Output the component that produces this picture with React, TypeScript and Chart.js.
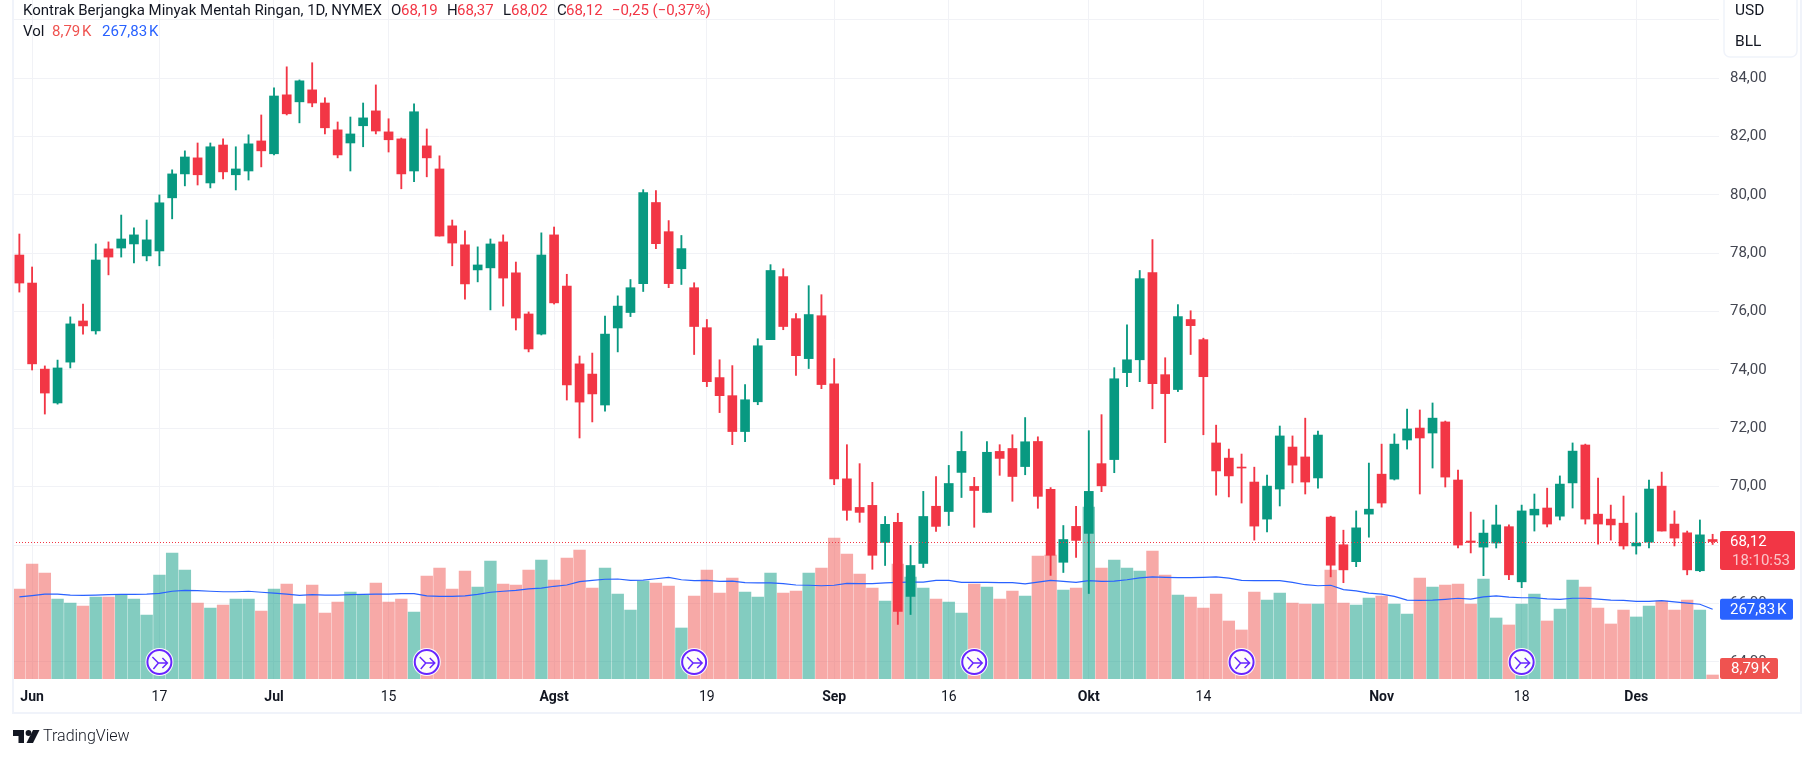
import React, { useEffect, useRef } from "react";
import { Chart, registerables } from "chart.js";

Chart.register(...registerables);

const dates = [
  "05-31","06-03","06-04","06-05","06-06","06-07","06-10","06-11","06-12","06-13","06-14","06-17","06-18","06-20","06-21",
  "06-24","06-25","06-26","06-27","06-28","07-01","07-02","07-03","07-05","07-08","07-09","07-10","07-11","07-12","07-15",
  "07-16","07-17","07-18","07-19","07-22","07-23","07-24","07-25","07-26","07-29","07-30","07-31","08-01","08-02","08-05",
  "08-06","08-07","08-08","08-09","08-12","08-13","08-14","08-15","08-16","08-19","08-20","08-21","08-22","08-23","08-26",
  "08-27","08-28","08-29","08-30","09-03","09-04","09-05","09-06","09-09","09-10","09-11","09-12","09-13","09-16","09-17",
  "09-18","09-19","09-20","09-23","09-24","09-25","09-26","09-27","09-30","10-01","10-02","10-03","10-04","10-07","10-08",
  "10-09","10-10","10-11","10-14","10-15","10-16","10-17","10-18","10-21","10-22","10-23","10-24","10-25","10-28","10-29",
  "10-30","10-31","11-01","11-04","11-05","11-06","11-07","11-08","11-11","11-12","11-13","11-14","11-15","11-18","11-19",
  "11-20","11-21","11-22","11-25","11-26","11-27","11-29","12-02","12-03","12-04","12-05","12-06","12-09","12-10",
];

const opens = [
  77.94,76.98,74.03,72.87,74.27,75.68,75.34,78.15,78.18,78.32,
  77.91,78.08,79.9,80.72,81.27,80.41,81.71,80.69,80.82,81.85,
  81.41,83.43,83.19,83.6,83.15,82.23,81.78,82.37,82.88,82.16,
  81.92,80.82,81.68,80.89,78.94,78.29,77.43,77.5,78.39,77.33,
  75.92,75.23,78.63,76.88,74.21,73.86,72.8,75.44,75.97,76.96,
  79.74,78.74,77.47,76.82,75.45,73.74,73.12,71.89,72.91,75.04,
  77.2,75.76,74.39,75.86,73.53,70.27,69.29,69.36,68.09,68.78,
  66.24,67.37,69.33,69.15,70.49,70.01,69.12,71.21,71.31,70.69,
  71.55,69.91,67.41,68.64,68.4,70.79,70.93,73.91,74.35,77.34,
  73.84,73.33,75.73,75.04,71.5,70.98,70.67,70.16,68.89,69.92,
  71.36,71.02,70.3,68.96,68.01,67.43,69.06,70.43,70.26,71.6,
  72.01,71.84,72.22,70.23,68.14,67.93,68.07,68.63,66.74,69.03,
  69.27,68.99,70.13,71.43,69.06,68.89,68.75,67.97,68.1,70.02,
  68.72,68.42,67.12,68.19,
];
const highs = [
  78.66,77.53,74.14,74.34,75.82,76.26,78.32,78.39,79.31,78.87,
  79.14,80.0,80.86,81.51,81.78,81.78,81.92,81.65,82.06,82.74,
  83.67,84.39,83.94,84.53,83.33,82.5,82.67,83.15,83.77,82.61,
  81.95,83.12,82.26,81.34,79.14,78.77,78.22,78.49,78.63,77.7,
  75.99,78.7,78.9,77.28,74.48,74.58,75.85,76.54,77.1,80.18,
  80.15,79.12,78.61,76.99,75.73,74.35,74.15,73.5,75.07,77.61,
  77.47,75.93,76.89,76.58,74.39,71.44,70.79,70.15,68.98,69.09,
  67.99,69.84,70.35,70.73,71.89,70.32,71.55,71.44,71.78,72.37,
  71.71,69.97,68.67,69.33,71.92,72.47,74.08,75.55,77.41,78.47,
  74.42,76.24,76.03,75.09,72.11,71.29,71.12,70.67,70.4,72.08,
  71.74,72.35,71.91,68.99,68.51,69.17,70.81,71.46,71.81,72.66,
  72.63,72.87,72.25,70.57,69.13,68.86,69.37,68.69,69.37,69.75,
  69.95,70.37,71.5,71.46,70.3,69.37,69.68,69.1,70.23,70.5,
  69.17,68.48,68.86,68.37,
];
const lows = [
  76.67,74.0,72.49,72.83,74.07,75.23,75.23,77.26,77.87,77.67,
  77.74,77.57,79.18,80.31,80.34,80.24,80.55,80.17,80.51,80.96,
  81.37,82.74,82.47,83.02,82.09,81.27,80.82,81.65,82.09,81.47,
  80.21,80.45,80.62,78.59,77.57,76.43,77.02,76.06,76.19,75.37,
  74.62,75.2,76.26,72.97,71.67,72.22,72.59,74.62,75.83,76.69,
  78.16,76.82,76.93,74.53,73.43,72.54,71.44,71.54,72.81,75.04,
  75.38,73.81,74.05,73.36,70.07,68.85,68.78,67.17,67.3,65.28,
  65.62,67.23,68.47,68.67,69.63,68.61,69.12,70.39,69.5,70.41,
  69.26,66.96,67.06,67.58,66.34,69.83,70.48,73.43,73.6,72.67,
  71.51,73.26,74.53,71.78,69.71,69.65,69.44,68.17,68.45,69.34,
  70.13,69.75,69.95,66.91,66.71,67.26,68.27,69.3,70.23,71.29,
  69.75,70.64,69.99,67.9,67.73,66.95,67.9,66.81,66.54,68.48,
  68.62,68.86,69.27,68.72,68.03,68.17,67.86,67.69,67.9,68.48,
  67.97,66.98,67.09,68.02,
];
const closes = [
  76.98,74.21,73.21,74.07,75.58,75.51,77.77,77.87,78.49,78.63,
  78.46,79.73,80.72,81.3,80.69,81.65,80.79,80.89,81.75,81.51,
  83.39,82.78,83.91,83.15,82.3,81.37,82.09,82.64,82.19,81.89,
  80.72,82.85,81.27,78.59,78.35,76.95,77.6,78.32,77.15,75.78,
  74.72,77.94,76.3,73.49,72.9,73.18,75.23,76.19,76.82,80.08,
  78.33,76.96,78.16,75.49,73.6,73.12,71.89,72.98,74.83,77.41,
  75.49,74.49,75.9,73.5,70.27,69.19,69.12,67.65,68.71,65.73,
  67.3,68.98,68.64,70.11,71.21,69.87,71.18,70.97,70.35,71.54,
  69.67,67.65,68.19,68.16,69.84,70.03,73.7,74.35,77.13,73.53,
  73.19,75.83,75.52,73.77,70.54,70.37,70.64,68.65,70.02,71.74,
  70.74,70.16,71.77,67.31,67.15,68.59,69.23,69.44,71.46,71.98,
  71.67,72.35,70.33,68.0,68.09,68.41,68.69,66.98,69.17,69.23,
  68.72,70.09,71.22,68.89,68.72,68.69,67.97,68.07,69.92,68.48,
  68.24,67.15,68.35,68.12,
];
const volumesK = [
  345.6,441.6,407,307.2,291.8,280.3,314.9,314.9,323.8,307.2,
  245.8,399.4,483.8,418.6,291.8,272.6,284.2,307.2,307.2,261.1,
  345.6,364.8,288,361,253.4,295.7,334.1,322.6,368.6,295.7,
  307.2,257.3,395.5,426.2,345.6,414.7,353.3,453.1,364.8,361,
  418.6,457,380.2,464.6,495.4,349.4,426.2,326.4,265,376.3,
  368.6,357.1,195.8,318.7,418.6,330.2,387.8,334.1,314.9,407,
  330.2,337.9,407,426.2,541.4,480,403.2,349.4,299.5,441.6,
  391.7,349.4,307.2,295.7,253.4,364.8,353.3,307.2,337.9,318.7,
  472.3,476.2,341.8,349.4,660.5,426.2,457,426.2,414.7,491.5,
  399.4,322.6,314.9,272.6,326.4,222.7,188.2,334.1,303.4,330.2,
  291.8,288,288,418.6,291.8,284.2,311,318.7,288,249.6,
  387.8,353.3,361,364.8,288,384,234.2,207.4,288,326.4,
  222.7,268.8,380.2,353.3,272.6,211.2,265,238.1,280.3,299.5,
  265,303.4,265,8.79,
];
const volumeAverageK = [
  315,320,326,326,322,321,322,324,325,325,
  326,329,337,340,339,337,335,335,337,333,
  330,326,321,324,322,322,324,325,326,326,
  328,328,319,317,317,319,325,333,337,340,
  346,349,356,361,374,379,383,384,379,380,
  385,390,381,378,379,375,376,370,369,369,
  366,361,360,358,360,367,366,366,369,371,
  372,372,379,379,371,371,371,370,370,365,
  372,379,375,371,378,375,376,381,388,392,
  390,389,389,390,392,387,379,378,378,378,
  371,362,358,360,343,338,330,326,317,303,
  302,303,306,310,307,315,319,314,312,312,
  308,306,310,310,307,303,302,298,298,301,
  296,291,287,267.83,
];

const tickDates = ["06-03","06-17","07-01","07-15","08-01","08-19","09-03","09-16","10-01","10-14","11-01","11-18","12-02"];
const tickTexts = ["Jun","17","Jul","15","Agst","19","Sep","16","Okt","14","Nov","18","Des"];
const monthTicks = ["Jun","Jul","Agst","Sep","Okt","Nov","Des"];
const badgeDates = ["06-17","07-18","08-16","09-18","10-17","11-18"];

const RED = "#F23645";
const GREEN = "#089981";
const FONT = "Roboto, sans-serif";
const TEXT = "#131722";
const GRID = "#F1F2F6";
const KILO = "\u202fK";

const fmt = (v: number) => v.toFixed(2).replace(".", ",");

function overlayPlugin() {
  return {
    id: "overlay",
    beforeDraw(chart: any) {
      const { ctx } = chart;
      ctx.save();
      ctx.fillStyle = "#fff";
      ctx.fillRect(0, 0, chart.width, chart.height);
      ctx.restore();
    },
    afterDatasetsDraw(chart: any) {
      const { ctx, chartArea, scales } = chart;
      const last = closes.length - 1;
      // last price line
      const py = Math.round(scales.y.getPixelForValue(closes[last])) + 0.5;
      ctx.save();
      ctx.strokeStyle = RED;
      ctx.lineWidth = 1;
      ctx.setLineDash([1, 2]);
      ctx.beginPath();
      ctx.moveTo(chartArea.left, py);
      ctx.lineTo(chartArea.right, py);
      ctx.stroke();
      ctx.restore();

      // event badges
      badgeDates.forEach((d) => {
        const x = scales.x.getPixelForValue(dates.indexOf(d));
        const y = 662;
        ctx.save();
        ctx.translate(x, y);
        ctx.beginPath();
        ctx.arc(0, 0, 14, 0, Math.PI * 2);
        ctx.fillStyle = "rgba(255,255,255,0.95)";
        ctx.fill();
        ctx.beginPath();
        ctx.arc(0, 0, 12, 0, Math.PI * 2);
        ctx.strokeStyle = "#6725FF";
        ctx.lineWidth = 2;
        ctx.stroke();
        ctx.lineWidth = 1.5;
        ctx.beginPath();
        ctx.moveTo(-7, -5);
        ctx.lineTo(-1, 1);
        ctx.lineTo(8, 1);
        ctx.moveTo(-1, 1);
        ctx.lineTo(-6, 7);
        ctx.moveTo(3, -4);
        ctx.lineTo(8, 1);
        ctx.lineTo(3, 6);
        ctx.stroke();
        ctx.restore();
      });
    },
    afterDraw(chart: any) {
      const { ctx, scales } = chart;
      const last = closes.length - 1;
      ctx.save();
      // frame
      ctx.fillStyle = "#F0F3FA";
      ctx.fillRect(12, 0, 2, 714);
      ctx.fillRect(1800, 0, 2, 714);
      ctx.fillRect(12, 712, 1790, 2);

      const tag = (x: number, y: number, w: number, h: number, c: string) => {
        ctx.fillStyle = c;
        ctx.beginPath();
        ctx.roundRect(x, y, w, h, 2);
        ctx.fill();
      };
      const txt = (s: string, x: number, y: number, c: string, size = 15, w = "400") => {
        ctx.font = `${w} ${size}px ${FONT}`;
        ctx.fillStyle = c;
        ctx.textAlign = "left";
        ctx.textBaseline = "middle";
        ctx.fillText(s, x, y);
      };

      // currency box
      ctx.fillStyle = "#fff";
      ctx.strokeStyle = "#F0F3FA";
      ctx.lineWidth = 1.5;
      ctx.beginPath();
      ctx.roundRect(1724, -8, 73, 65, 6);
      ctx.fill();
      ctx.stroke();
      txt("USD", 1735, 11, TEXT, 15.5);
      txt("BLL", 1735, 42, TEXT, 15.5);

      // price tags
      const py = scales.y.getPixelForValue(closes[last]);
      tag(1720, py - 10.5, 75, 39, RED);
      txt(fmt(closes[last]), 1730, py + 1, "#fff");
      txt("18:10:53", 1732, py + 19.5, "rgba(255,255,255,0.7)", 15);
      const ay = scales.y1.getPixelForValue(volumeAverageK[last]);
      tag(1720, ay - 10.5, 73, 21, "#2962FF");
      txt(fmt(volumeAverageK[last]) + KILO, 1730, ay + 1, "#fff");
      tag(1720, 658, 58, 21, "#EF5350");
      txt(fmt(volumesK[last]) + KILO, 1731, 669.5, "#fff");

      // legend
      txt("Kontrak Berjangka Minyak Mentah Ringan, 1D, NYMEX", 23, 11, TEXT);
      const down = RED;
      txt("O", 391, 11, TEXT);
      txt(fmt(opens[last]), 401, 11, down);
      txt("H", 447, 11, TEXT);
      txt(fmt(highs[last]), 457, 11, down);
      txt("L", 503, 11, TEXT);
      txt(fmt(lows[last]), 511, 11, down);
      txt("C", 557, 11, TEXT);
      txt(fmt(closes[last]), 566, 11, down);
      txt("\u22120,25 (\u22120,37%)", 612, 11, down);
      txt("Vol", 23, 32, TEXT);
      txt(fmt(volumesK[last]) + KILO, 52, 32, "#EF5350");
      txt(fmt(volumeAverageK[last]) + KILO, 102, 32, "#2962FF");

      // logo
      ctx.fillStyle = TEXT;
      ctx.beginPath();
      ctx.moveTo(13, 730);
      ctx.lineTo(24, 730);
      ctx.lineTo(24, 743);
      ctx.lineTo(18.5, 743);
      ctx.lineTo(18.5, 736);
      ctx.lineTo(13, 736);
      ctx.closePath();
      ctx.fill();
      ctx.beginPath();
      ctx.arc(28.5, 733, 2.9, 0, Math.PI * 2);
      ctx.fill();
      ctx.beginPath();
      ctx.moveTo(33, 730);
      ctx.lineTo(39.5, 730);
      ctx.lineTo(33, 743);
      ctx.lineTo(26.5, 743);
      ctx.closePath();
      ctx.fill();
      txt("TradingView", 43, 737, TEXT, 16, "300");
      ctx.restore();
    },
  };
}

export default function App() {
  const ref = useRef<HTMLCanvasElement | null>(null);
  useEffect(() => {
    if (!ref.current) return;
    const candleColors = closes.map((c, i) => (c >= opens[i] ? GREEN : RED));
    const volumeColors = closes.map((c, i) => (c >= opens[i] ? "rgba(8,153,129,0.5)" : "rgba(239,83,80,0.5)"));
    const chart = new Chart(ref.current, {
      type: "bar",
      data: {
        labels: dates,
        datasets: [
          {
            type: "bar",
            label: "Body",
            data: opens.map((o, i) => [o, closes[i]]),
            backgroundColor: candleColors,
            barThickness: 9,
            grouped: false,
            minBarLength: 1,
            order: 1,
            yAxisID: "y",
          },
          {
            type: "bar",
            label: "Wick",
            data: lows.map((l, i) => [l, highs[i]]),
            backgroundColor: candleColors,
            barThickness: 1.2,
            grouped: false,
            order: 2,
            yAxisID: "y",
          },
          {
            type: "line",
            label: "Vol MA",
            data: volumeAverageK,
            borderColor: "#2962FF",
            borderWidth: 1.2,
            pointRadius: 0,
            tension: 0,
            order: 3,
            yAxisID: "y1",
          },
          {
            type: "bar",
            label: "Vol",
            data: volumesK,
            backgroundColor: volumeColors,
            barThickness: 11.7,
            grouped: false,
            minBarLength: 4,
            order: 4,
            yAxisID: "y1",
          },
        ],
      } as any,
      options: {
        animation: false,
        responsive: false,
        devicePixelRatio: 1,
        events: [],
        layout: { autoPadding: false, padding: { left: 13, right: 13, top: 0, bottom: 45 } },
        plugins: { legend: { display: false }, tooltip: { enabled: false }, title: { display: false } },
        scales: {
          x: {
            type: "category",
            offset: true,
            border: { display: false },
            grid: { offset: false, color: GRID, drawTicks: false },
            afterBuildTicks(scale: any) {
              scale.ticks = scale.ticks.filter((t: any) => tickDates.includes(dates[t.value]));
            },
            afterFit(scale: any) {
              scale.height = 34;
              scale.paddingLeft = 0;
              scale.paddingRight = 0;
            },
            ticks: {
              autoSkip: false,
              maxRotation: 0,
              minRotation: 0,
              padding: 10,
              color: TEXT,
              callback(value: any) {
                return tickTexts[tickDates.indexOf(dates[value])];
              },
              font(ctx: any) {
                const label = tickTexts[tickDates.indexOf(dates[ctx.tick?.value])];
                return { family: FONT, size: 14, weight: monthTicks.includes(label) ? "700" : "400" };
              },
            },
          },
          y: {
            position: "right",
            min: 63.41,
            max: 86.68,
            border: { display: false },
            grid: { color: GRID, drawTicks: false },
            afterFit(scale: any) {
              scale.width = 82;
              scale.paddingTop = 0;
              scale.paddingBottom = 0;
            },
            ticks: {
              stepSize: 2,
              includeBounds: false,
              padding: 11,
              color: "#434651",
              font: { family: FONT, size: 15 },
              callback(value: any) {
                return fmt(Number(value));
              },
            },
          },
          y1: { display: false, min: 0, max: 2607 },
        },
      } as any,
      plugins: [overlayPlugin()],
    });
    return () => chart.destroy();
  }, []);
  return (
    <div style={{ position: "fixed", left: 0, top: 0, width: 1814, height: 758, background: "#fff" }}>
      <canvas ref={ref} width={1814} height={758} style={{ display: "block", width: 1814, height: 758 }} />
    </div>
  );
}
